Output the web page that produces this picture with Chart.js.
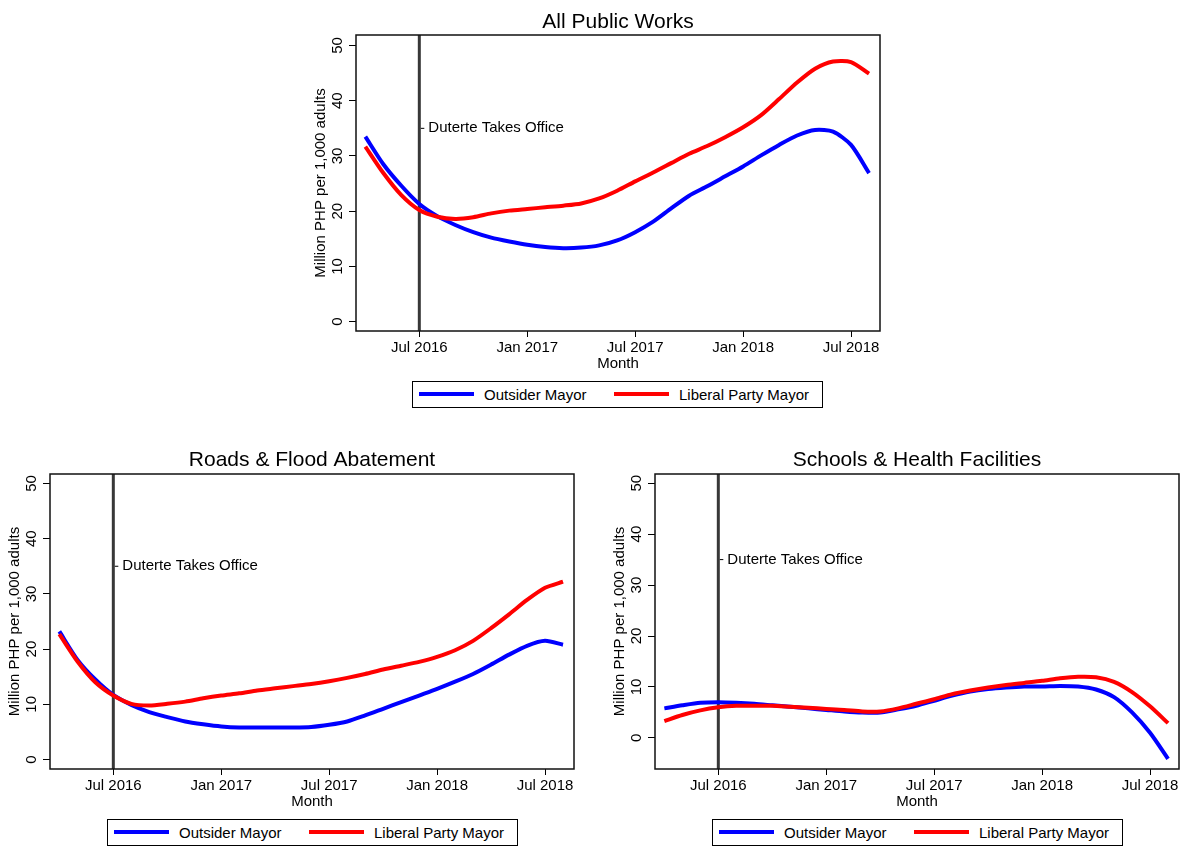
<!DOCTYPE html>
<html>
<head>
<meta charset="utf-8">
<title>Public works spending by mayor type</title>
<script src="https://cdn.jsdelivr.net/npm/chart.js@4/dist/chart.umd.min.js"></script>
<style>
  html, body { margin: 0; padding: 0; background: #fff; }
  body {
    position: relative; width: 1182px; height: 846px; overflow: hidden;
    font-family: "Liberation Sans", Arial, Helvetica, sans-serif;
  }
  canvas { position: absolute; }
  .legend {
    position: absolute; width: 411px; height: 27px;
    border: 1px solid #000; box-sizing: border-box; background: #fff;
  }
  .legend .swatch { position: absolute; top: 10px; width: 55px; height: 4px; }
  .legend .label {
    position: absolute; top: 0; line-height: 25px; font-size: 15px; color: #000; white-space: nowrap;
  }
</style>
</head>
<body>
<canvas id="allWorks" width="600" height="380" style="left:306px;top:0px"></canvas>
<canvas id="roads" width="600" height="378" style="left:0px;top:440px"></canvas>
<canvas id="schools" width="577" height="378" style="left:605px;top:440px"></canvas>

<script>
// months covered by the smoothed series (one point per month)
const months = [
  '2016-04', '2016-05', '2016-06', '2016-07', '2016-08', '2016-09', '2016-10', '2016-11', '2016-12',
  '2017-01', '2017-02', '2017-03', '2017-04', '2017-05', '2017-06', '2017-07', '2017-08', '2017-09',
  '2017-10', '2017-11', '2017-12', '2018-01', '2018-02', '2018-03', '2018-04', '2018-05', '2018-06',
  '2018-07', '2018-08'
];
const tickMonths = ['2016-07', '2017-01', '2017-07', '2018-01', '2018-07'];
const tickLabels = ['Jul 2016', 'Jan 2017', 'Jul 2017', 'Jan 2018', 'Jul 2018'];
const yTicks = [0, 10, 20, 30, 40, 50];
const seriesNames = ['Outsider Mayor', 'Liberal Party Mayor'];
const eventMonth = '2016-07';
const eventLabel = 'Duterte Takes Office';
const eventLabelValue = 35;

// million PHP per 1,000 adults
const allOutsider = [33.5, 28.5, 24.6, 21.3, 19.1, 17.5, 16.2, 15.2, 14.5, 13.9, 13.5, 13.3, 13.4, 13.8, 14.7,
  16.2, 18.1, 20.5, 22.8, 24.5, 26.3, 28.1, 30.1, 32.0, 33.7, 34.7, 34.4, 32.0, 26.9];
const allLiberal = [31.7, 26.9, 22.9, 20.2, 19.0, 18.6, 18.9, 19.6, 20.1, 20.4, 20.7, 21.0, 21.4, 22.3, 23.7,
  25.4, 27.0, 28.7, 30.4, 31.8, 33.4, 35.2, 37.4, 40.3, 43.3, 45.8, 47.1, 47.0, 44.9];
const roadsOutsider = [23.2, 18.1, 14.5, 11.7, 9.9, 8.6, 7.7, 6.9, 6.4, 6.0, 5.8, 5.8, 5.8, 5.8, 5.9,
  6.3, 6.9, 8.0, 9.2, 10.4, 11.6, 12.8, 14.1, 15.5, 17.2, 19.0, 20.6, 21.5, 20.8];
const roadsLiberal = [22.7, 17.8, 14.0, 11.6, 10.1, 9.8, 10.1, 10.5, 11.1, 11.6, 12.0, 12.5, 12.9, 13.3, 13.7,
  14.2, 14.8, 15.5, 16.3, 17.0, 17.7, 18.6, 19.8, 21.5, 23.8, 26.3, 28.9, 31.1, 32.2];
const schoolsOutsider = [5.8, 6.4, 6.9, 7.0, 6.9, 6.7, 6.4, 6.1, 5.8, 5.5, 5.2, 5.0, 5.0, 5.6, 6.3,
  7.3, 8.3, 9.1, 9.6, 9.9, 10.1, 10.1, 10.2, 10.1, 9.5, 8.0, 5.0, 1.0, -4.1];
const schoolsLiberal = [3.3, 4.5, 5.4, 6.0, 6.3, 6.3, 6.3, 6.1, 5.9, 5.7, 5.5, 5.2, 5.2, 5.8, 6.7,
  7.6, 8.6, 9.3, 9.9, 10.4, 10.8, 11.2, 11.7, 12.0, 11.9, 11.0, 9.0, 6.2, 2.9];

const FONT = '"Liberation Sans", Arial, Helvetica, sans-serif';
const COLORS = ['#0000ff', '#ff0000'];

// months since Jul 2016
function monthNum(s) {
  const [y, m] = s.split('-').map(Number);
  return (y - 2016) * 12 + (m - 7);
}

function makeChart(id, title, outsider, liberal, yMin, yMax, titleY) {
  const xs = months.map(monthNum);
  const points = vals => vals.map((v, i) => ({ x: xs[i], y: v }));

  // panel title, event line + label, box frame
  const decor = {
    id: 'decor',
    beforeDatasetsDraw(chart) {
      const { ctx, chartArea: a, scales } = chart;
      const x = scales.x.getPixelForValue(monthNum(eventMonth));
      ctx.save();
      ctx.strokeStyle = '#383838';
      ctx.lineWidth = 3;
      ctx.beginPath();
      ctx.moveTo(x, a.top);
      ctx.lineTo(x, a.bottom);
      ctx.stroke();
      ctx.restore();
    },
    afterDraw(chart) {
      const { ctx, chartArea: a, scales } = chart;
      ctx.save();
      ctx.fillStyle = '#000';
      ctx.font = '21px ' + FONT;
      ctx.textAlign = 'center';
      ctx.textBaseline = 'alphabetic';
      ctx.fillText(title, (a.left + a.right) / 2, titleY);

      const x = scales.x.getPixelForValue(monthNum(eventMonth));
      const y = scales.y.getPixelForValue(eventLabelValue);
      ctx.strokeStyle = '#000';
      ctx.lineWidth = 1;
      ctx.beginPath();
      ctx.moveTo(x + 1.5, y);
      ctx.lineTo(x + 5, y);
      ctx.stroke();
      ctx.font = '15px ' + FONT;
      ctx.textAlign = 'left';
      ctx.textBaseline = 'middle';
      ctx.fillText(eventLabel, x + 9, y);

      ctx.strokeStyle = '#111';
      ctx.lineWidth = 1.5;
      ctx.strokeRect(a.left, a.top, a.right - a.left, a.bottom - a.top);
      ctx.restore();
    }
  };

  return new Chart(document.getElementById(id), {
    type: 'line',
    data: {
      datasets: [
        { label: seriesNames[0], data: points(outsider), borderColor: COLORS[0], order: 1 },
        { label: seriesNames[1], data: points(liberal), borderColor: COLORS[1], order: 0 }
      ]
    },
    options: {
      responsive: false,
      animation: false,
      devicePixelRatio: 1,
      layout: { padding: { top: id === 'allWorks' ? 35 : 34, right: id === 'schools' ? 3 : 26, bottom: 0, left: 0 } },
      elements: {
        line: { borderWidth: 4, tension: 0.25, fill: false, borderCapStyle: 'butt', borderJoinStyle: 'round' },
        point: { radius: 0, hoverRadius: 0 }
      },
      plugins: { legend: { display: false }, tooltip: { enabled: false }, title: { display: false } },
      scales: {
        x: {
          type: 'linear',
          min: -3.52,
          max: 25.61,
          afterBuildTicks: s => { s.ticks = tickMonths.map(m => ({ value: monthNum(m) })); },
          afterFit: s => { s.height = 49; },
          border: { display: false },
          grid: { drawOnChartArea: false, drawTicks: true, tickLength: 6, color: '#000', tickColor: '#000' },
          ticks: {
            autoSkip: false, maxRotation: 0, minRotation: 0, padding: 2, color: '#000',
            font: { family: FONT, size: 15 },
            callback: (v, i) => tickLabels[i]
          },
          title: {
            display: true, text: 'Month', color: '#000',
            font: { family: FONT, size: 15 }, padding: { top: 0, bottom: 7 }
          }
        },
        y: {
          type: 'linear',
          min: yMin,
          max: yMax,
          afterBuildTicks: s => { s.ticks = yTicks.map(v => ({ value: v })); },
          afterFit: s => { s.width = 50; },
          border: { display: false },
          grid: { drawOnChartArea: false, drawTicks: true, tickLength: 7, color: '#000', tickColor: '#000' },
          ticks: {
            autoSkip: false, minRotation: 90, maxRotation: 90, crossAlign: 'center', padding: 3,
            color: '#000', font: { family: FONT, size: 15 }
          },
          title: {
            display: true, text: 'Million PHP per 1,000 adults', color: '#000',
            font: { family: FONT, size: 15 }, padding: { top: 6, bottom: 0 }
          }
        }
      }
    },
    plugins: [decor]
  });
}

function makeLegend(left, top) {
  const box = document.createElement('div');
  box.className = 'legend';
  box.style.left = left + 'px';
  box.style.top = top + 'px';
  const swatchX = [6, 201];
  const labelX = [71, 266];
  seriesNames.forEach((name, i) => {
    const sw = document.createElement('span');
    sw.className = 'swatch';
    sw.style.left = swatchX[i] + 'px';
    sw.style.background = COLORS[i];
    const lb = document.createElement('span');
    lb.className = 'label';
    lb.style.left = labelX[i] + 'px';
    lb.textContent = name;
    box.appendChild(sw);
    box.appendChild(lb);
  });
  document.body.appendChild(box);
}

makeChart('allWorks', 'All Public Works', allOutsider, allLiberal, -1.7, 51.9, 28);
makeChart('roads', 'Roads & Flood Abatement', roadsOutsider, roadsLiberal, -1.7, 51.7, 26);
makeChart('schools', 'Schools & Health Facilities', schoolsOutsider, schoolsLiberal, -6.1, 51.8, 26);

makeLegend(412, 381);
makeLegend(107, 819);
makeLegend(712, 819);
</script>
</body>
</html>
